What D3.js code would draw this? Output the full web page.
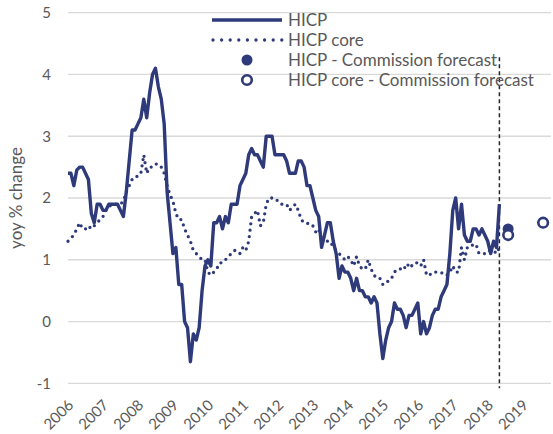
<!DOCTYPE html>
<html>
<head>
<meta charset="utf-8">
<script src="https://cdn.jsdelivr.net/npm/d3@7"></script>
<style>
  body { margin: 0; background: #fff; }
  svg text { font-family: Lato, "Open Sans", sans-serif; fill: #595959; }
</style>
</head>
<body>
<svg id="chart" width="553" height="434"></svg>
<script>
// monthly yoy % change, Jan 2006 .. May 2018
const hicp = [
  2.4, 2.4, 2.2, 2.45, 2.5, 2.5, 2.4, 2.3, 1.75, 1.6, 1.9, 1.9,      // 2006
  1.8, 1.8, 1.9, 1.9, 1.9, 1.9, 1.8, 1.7, 2.1, 2.6, 3.1, 3.1,        // 2007
  3.2, 3.3, 3.6, 3.3, 3.7, 4.0, 4.1, 3.8, 3.6, 3.2, 2.1, 1.6,        // 2008
  1.1, 1.2, 0.6, 0.6, 0.0, -0.1, -0.65, -0.2, -0.3, -0.1, 0.5, 0.9,  // 2009
  1.0, 0.9, 1.6, 1.6, 1.7, 1.5, 1.7, 1.6, 1.9, 1.9, 1.9, 2.2,        // 2010
  2.3, 2.4, 2.7, 2.8, 2.7, 2.7, 2.6, 2.5, 3.0, 3.0, 3.0, 2.7,        // 2011
  2.7, 2.7, 2.7, 2.6, 2.4, 2.4, 2.4, 2.6, 2.6, 2.5, 2.2, 2.2,        // 2012
  2.0, 1.8, 1.7, 1.2, 1.4, 1.6, 1.6, 1.3, 1.1, 0.7, 0.9, 0.8,        // 2013
  0.8, 0.7, 0.5, 0.7, 0.5, 0.5, 0.4, 0.4, 0.3, 0.4, 0.3, -0.2,       // 2014
  -0.6, -0.3, -0.1, 0.0, 0.3, 0.2, 0.2, 0.1, -0.1, 0.1, 0.1, 0.2,    // 2015
  0.3, -0.2, 0.0, -0.2, -0.1, 0.1, 0.2, 0.2, 0.4, 0.5, 0.6, 1.1,     // 2016
  1.8, 2.0, 1.5, 1.9, 1.4, 1.3, 1.3, 1.5, 1.5, 1.4, 1.5, 1.4,        // 2017
  1.3, 1.1, 1.3, 1.2, 1.9                                            // 2018
];
const hicpCore = [
  1.3, 1.35, 1.4, 1.5, 1.6, 1.5, 1.5, 1.55, 1.5, 1.55, 1.6, 1.65,    // 2006
  1.7, 1.8, 1.85, 1.9, 1.9, 1.9, 1.9, 1.95, 2.1, 2.2, 2.3, 2.35,     // 2007
  2.35, 2.4, 2.7, 2.4, 2.5, 2.5, 2.55, 2.55, 2.5, 2.4, 2.2, 2.05,    // 2008
  1.95, 1.75, 1.65, 1.65, 1.5, 1.4, 1.3, 1.15, 1.1, 1.05, 1.0, 1.0,  // 2009
  0.8, 0.75, 0.8, 0.85, 0.95, 0.95, 1.0, 1.05, 1.1, 1.15, 1.15, 1.1, // 2010
  1.2, 1.15, 1.3, 1.7, 1.75, 1.8, 1.55, 1.6, 1.9, 2.0, 2.0, 2.0,     // 2011
  1.95, 1.9, 1.9, 1.9, 1.8, 1.85, 1.9, 1.8, 1.65, 1.6, 1.6, 1.55,    // 2012
  1.55, 1.45, 1.5, 1.3, 1.35, 1.3, 1.3, 1.2, 1.15, 1.1, 1.05, 1.0,   // 2013
  1.05, 1.0, 0.9, 1.05, 0.9, 0.85, 0.85, 1.0, 0.85, 0.75, 0.7, 0.7,  // 2014
  0.6, 0.65, 0.65, 0.7, 0.8, 0.85, 0.85, 0.9, 0.85, 0.95, 0.9, 0.95, // 2015
  0.95, 0.9, 1.0, 0.75, 0.75, 0.8, 0.8, 0.8, 0.8, 0.75, 0.75, 0.8,   // 2016
  0.9, 0.8, 0.8, 1.2, 1.0, 1.2, 1.2, 1.25, 1.25, 1.1, 1.1, 1.1,      // 2017
  1.15, 1.15, 1.15, 1.1, 1.2                                         // 2018
];

// Commission forecast (annual), plotted at the month given
const forecastMonths = ["2018-08", "2019-08"];
const hicpForecast = [1.5, 1.6];
const coreForecast = [1.4, 1.6];

const years = ["2006", "2007", "2008", "2009", "2010", "2011", "2012",
               "2013", "2014", "2015", "2016", "2017", "2018", "2019"];
const yTicks = [-1, 0, 1, 2, 3, 4, 5];
const legendLabels = ["HICP", "HICP core", "HICP - Commission forecast",
                      "HICP core - Commission forecast"];

////////////////////////////////////////////////////////////////////////

const navy = "#2e3a7a";
const svg = d3.select("#chart");

// month index counted from Jan 2006
function monthIndex(s) {
  const p = s.split("-");
  return (+p[0] - 2006) * 12 + (+p[1] - 1);
}

const x = d3.scaleLinear().domain([0, 165.7]).range([68, 551]);
const y = d3.scaleLinear().domain([-1, 5]).range([383.3, 12.7]);

// gridlines
svg.append("g")
  .selectAll("line")
  .data(yTicks)
  .enter()
  .append("line")
  .attr("x1", x(0))
  .attr("x2", x.range()[1])
  .attr("y1", d => y(d))
  .attr("y2", d => y(d))
  .attr("stroke", "#d9d9d9")
  .attr("stroke-width", 1.3);

// y axis labels (plain hyphen for the minus, as in the original)
let yAxis = svg.append("g")
  .attr("transform", "translate(" + (x(0) - 17) + ",0)")
  .call(d3.axisLeft(y).tickValues(yTicks).tickSize(0).tickPadding(0).tickFormat(d => String(d)));
yAxis.select(".domain").remove();
yAxis.selectAll("text")
  .attr("font-size", 15)
  .style("font-family", null);

svg.append("text")
  .attr("transform", "translate(22,198) rotate(-90)")
  .attr("text-anchor", "middle")
  .attr("font-size", 17)
  .text("yoy % change");

// x axis labels, one per January
let xAxis = svg.append("g")
  .attr("transform", "translate(0,406)")
  .call(d3.axisBottom(x)
    .tickValues(years.map(d => monthIndex(d + "-01")))
    .tickSize(0)
    .tickFormat((d, i) => years[i]));
xAxis.select(".domain").remove();
xAxis.selectAll("text")
  .attr("font-size", 15)
  .attr("text-anchor", "end")
  .attr("dy", 0)
  .attr("y", 0)
  .attr("transform", "translate(6,0) rotate(-45)");

// end of observed data
const lastIdx = hicp.length - 1;
svg.append("line")
  .attr("x1", x(lastIdx)).attr("x2", x(lastIdx))
  .attr("y1", y(4.28)).attr("y2", y(-1.08))
  .attr("stroke", "#262626")
  .attr("stroke-width", 1.5)
  .attr("stroke-dasharray", "4,3");

// series
let line = d3.line()
  .x((d, i) => x(i))
  .y(d => y(d));

svg.append("path")
  .datum(hicpCore)
  .attr("d", line)
  .attr("fill", "none")
  .attr("stroke", navy)
  .attr("stroke-width", 3.3)
  .attr("stroke-linecap", "round")
  .attr("stroke-dasharray", "0,6.4");

svg.append("path")
  .datum(hicp)
  .attr("d", line)
  .attr("fill", "none")
  .attr("stroke", navy)
  .attr("stroke-width", 3.4)
  .attr("stroke-linejoin", "round");

svg.append("g")
  .selectAll("circle")
  .data(hicpForecast)
  .enter()
  .append("circle")
  .attr("cx", (d, i) => x(monthIndex(forecastMonths[i])))
  .attr("cy", d => y(d))
  .attr("r", 5.5)
  .attr("fill", navy);

svg.append("g")
  .selectAll("circle")
  .data(coreForecast)
  .enter()
  .append("circle")
  .attr("cx", (d, i) => x(monthIndex(forecastMonths[i])))
  .attr("cy", d => y(d))
  .attr("r", 4.8)
  .attr("fill", "#fff")
  .attr("stroke", navy)
  .attr("stroke-width", 2.6);

// legend
let legend = svg.append("g")
  .selectAll("g")
  .data(legendLabels)
  .enter()
  .append("g")
  .attr("transform", (d, i) => "translate(212," + (20 + i * 20) + ")");

legend.append("text")
  .attr("x", 76)
  .attr("dy", "0.35em")
  .attr("font-size", 17)
  .text(d => d);

legend.filter((d, i) => i == 0).append("line")
  .attr("x1", 0).attr("x2", 70)
  .attr("stroke", navy).attr("stroke-width", 3.4);

legend.filter((d, i) => i == 1).append("line")
  .attr("x1", 1).attr("x2", 70)
  .attr("stroke", navy).attr("stroke-width", 3.3)
  .attr("stroke-linecap", "round")
  .attr("stroke-dasharray", "0,8.6");

legend.filter((d, i) => i == 2).append("circle")
  .attr("cx", 35).attr("r", 5.5)
  .attr("fill", navy);

legend.filter((d, i) => i == 3).append("circle")
  .attr("cx", 35).attr("r", 4.8)
  .attr("fill", "#fff")
  .attr("stroke", navy).attr("stroke-width", 2.6);
</script>
</body>
</html>
